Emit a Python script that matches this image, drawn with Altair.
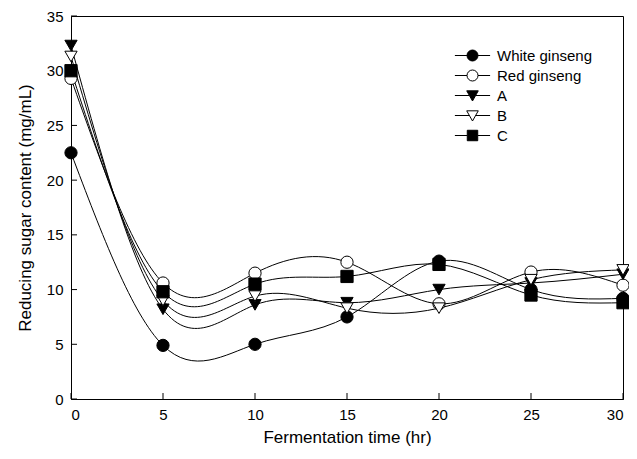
import altair as alt
import pandas as pd

hours = [0, 5, 10, 15, 20, 25, 30]
series_names = ["White ginseng", "Red ginseng", "A", "B", "C"]
white = [22.5, 4.9, 5.0, 7.5, 12.6, 10.0, 9.2]
red = [29.3, 10.6, 11.5, 12.5, 8.7, 11.6, 10.4]
sa = [32.3, 8.2, 8.6, 8.8, 10.0, 10.6, 11.4]
sb = [31.3, 9.0, 9.4, 8.3, 8.3, 10.9, 11.8]
sc = [30.0, 9.8, 10.5, 11.2, 12.3, 9.5, 8.8]
y_ticks = [0, 5, 10, 15, 20, 25, 30, 35]
x_ticks = [0, 5, 10, 15, 20, 25, 30]

values = [white, red, sa, sb, sc]
rows = []
for name, vals in zip(series_names, values):
    for h, v in zip(hours, vals):
        rows.append({"hour": h, "value": v, "series": name, "label": name})
df = pd.DataFrame(rows)

shapes = ["circle", "circle", "triangle-down", "triangle-down", "square"]
fills = ["black", "white", "black", "white", "black"]
strokes = ["black"] * 5

circ = "M-1,0A1,1 0 1,0 1,0A1,1 0 1,0 -1,0Z"
tri = "M-1.05,-0.85L1.05,-0.85L0,1Z"
sq = "M-0.95,-0.95H0.95V0.95H-0.95Z"
lines_c = "M-3.2,0H-1M1,0H3.2"
lines_t = "M-3.2,0H-0.57M0.57,0H3.2"
lines_s = "M-3.2,0H-0.95M0.95,0H3.2"
legend_paths = [lines_c + circ, lines_c + circ, lines_t + tri, lines_t + tri, lines_s + sq]

FONT = "Liberation Sans"

xscale = alt.Scale(domain=[0, 30], nice=False, zero=False)
yscale = alt.Scale(domain=[0, 35], nice=False)

base = alt.Chart(df)

lines = base.mark_line(interpolate="natural", color="black", strokeWidth=1).encode(
    x=alt.X("hour:Q", scale=xscale,
            axis=alt.Axis(title="Fermentation time (hr)", values=x_ticks, ticks=False,
                          labelPadding=8, titlePadding=7, grid=False, format="d")),
    y=alt.Y("value:Q", scale=yscale,
            axis=alt.Axis(title="Reducing sugar content (mg/mL)", values=y_ticks, ticks=False,
                          labelPadding=8, titlePadding=12, grid=False, format="d")),
    detail="series:N",
)

points = base.mark_point(filled=False, stroke="black", strokeWidth=1, opacity=1, size=150).encode(
    x=alt.X("hour:Q", scale=xscale),
    y=alt.Y("value:Q", scale=yscale),
    shape=alt.Shape("series:N", scale=alt.Scale(domain=series_names, range=shapes), legend=None),
    fill=alt.Fill("series:N", scale=alt.Scale(domain=series_names, range=fills), legend=None),
)

leg = dict(title=None, orient="none", legendX=394, legendY=32,
           symbolSize=121, symbolOpacity=1, symbolStrokeWidth=1,
           labelOffset=17, rowPadding=4,
           labelFontSize=15, labelFont=FONT, labelColor="black",
           padding=0, labelBaseline="middle")

legend_layer = base.mark_point(filled=False, strokeWidth=1, opacity=0, size=121).encode(
    x=alt.X("hour:Q", scale=xscale),
    y=alt.Y("value:Q", scale=yscale),
    shape=alt.Shape("label:N", scale=alt.Scale(domain=series_names, range=legend_paths),
                    legend=alt.Legend(**leg)),
    fill=alt.Fill("label:N", scale=alt.Scale(domain=series_names, range=fills),
                  legend=alt.Legend(**leg)),
    stroke=alt.Stroke("label:N", scale=alt.Scale(domain=series_names, range=strokes),
                      legend=alt.Legend(**leg)),
)

ydf = pd.DataFrame({"t": y_ticks})
xdf = pd.DataFrame({"t": x_ticks})
yticks_layer = alt.Chart(ydf).mark_rule(color="black", strokeWidth=1).encode(
    y=alt.Y("t:Q", scale=yscale), x=alt.value(0), x2=alt.value(6)
)
xticks_layer = alt.Chart(xdf).mark_rule(color="black", strokeWidth=1).encode(
    x=alt.X("t:Q", scale=xscale), y=alt.value(383), y2=alt.value(377)
)

chart = alt.layer(yticks_layer, xticks_layer, lines, points, legend_layer).resolve_scale(
    shape="independent", fill="independent", stroke="independent"
).properties(
    width=552, height=383,
    autosize=alt.AutoSizeParams(type="none"),
    padding={"left": 63, "top": 8, "right": 6, "bottom": 50},
).configure_view(stroke="black", strokeWidth=1).configure_axis(
    domainColor="black", domainWidth=1, labelFont=FONT, titleFont=FONT,
    labelFontSize=15, titleFontSize=17, labelColor="black", titleColor="black",
    titleFontWeight="normal",
)

chart.save("out.html", embed_options={"renderer": "svg", "actions": False})
